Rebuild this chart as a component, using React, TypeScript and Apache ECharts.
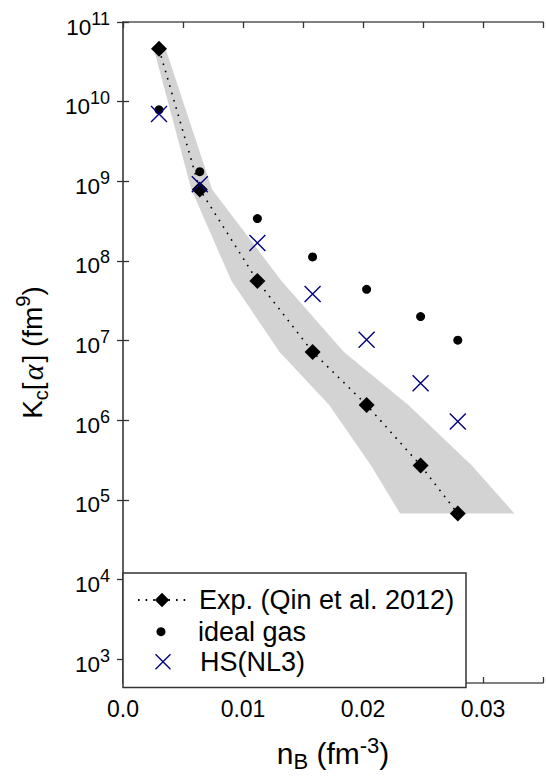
import React, { useEffect, useRef } from 'react';
import * as echarts from 'echarts';

// ---- data ----
const nB = [0.003, 0.0064, 0.0112, 0.0158, 0.0203, 0.0248, 0.0279];
const kExp = [4.6e10, 7.9e8, 5.6e7, 7.2e6, 1.55e6, 2.7e5, 6.7e4];
const kIdeal = [7.9e9, 1.32e9, 3.4e8, 1.12e8, 4.4e7, 2.0e7, 1.01e7];
const kHS = [7.0e9, 9.2e8, 1.68e8, 3.85e7, 1.02e7, 2.9e6, 9.6e5];
// horizontal (density) uncertainty band of the experimental points
const nBLow = [0.00256, 0.0057, 0.00904, 0.01305, 0.01718, 0.02067, 0.0231];
const nBHigh = [0.00355, 0.00743, 0.01321, 0.01841, 0.02378, 0.02907, 0.03262];
const yDecades = [3, 4, 5, 6, 7, 8, 9, 10, 11];
const seriesNames = ['Exp. (Qin et al. 2012)', 'ideal gas', 'HS(NL3)'];
const xMin = 0;
const xMax = 0.035;
const xStep = 0.005;
const yMinRaw = 500;
const yMaxRaw = 1e11;

const FONT = "'Liberation Sans', Arial, sans-serif";
const lg = (v: number) => Math.log10(v);

export default function App() {
  const ref = useRef<HTMLDivElement>(null);
  useEffect(() => {
    const chart = echarts.init(ref.current!, null, { renderer: 'svg' });
    const pts = (ys: number[]) => nB.map((x, i) => [x, lg(ys[i])]);
    const bandPts: number[][] = [
      ...nBHigh.map((x, i) => [x, lg(kExp[i])]),
      ...nBLow.map((x, i) => [x, lg(kExp[i])]).reverse(),
    ];
    const yMin = lg(yMinRaw);
    const yMax = lg(yMaxRaw);
    const axisLineStyle = { color: '#555', width: 1.5 };
    const tickStyle = { color: '#333', width: 1.3 };

    const legendCommon = {
      orient: 'vertical',
      padding: 0,
      itemWidth: 48,
      selectedMode: false,
      z: 10,
      textStyle: { fontSize: 27, lineHeight: 27, color: '#000', fontFamily: FONT, padding: [0, 0, 0, 8] },
    };

    const option: any = {
      animation: false,
      backgroundColor: '#fff',
      textStyle: { fontFamily: FONT },
      grid: { left: 123, right: -1, top: 22, bottom: 89.5, containLabel: false },
      xAxis: [
        {
          type: 'value',
          position: 'bottom',
          min: xMin,
          max: xMax,
          interval: xStep,
          axisLine: { show: true, lineStyle: axisLineStyle },
          axisTick: { show: true, inside: true, length: 6, lineStyle: tickStyle },
          splitLine: { show: false },
          axisLabel: {
            fontSize: 23,
            color: '#000',
            margin: 14,
            fontFamily: FONT,
            formatter: (v: number) => {
              const r = v / 0.01;
              if (Math.abs(r - Math.round(r)) > 1e-6 || v > 0.0301) return '';
              return Math.round(r) === 0 ? '0.0' : v.toFixed(2);
            },
          },
          name: '{a|n}{b|B}{a| (fm}{s|-3}{a|)}',
          nameLocation: 'middle',
          nameGap: 51,
          nameTextStyle: {
            color: '#000',
            rich: {
              a: { fontSize: 30, lineHeight: 38, verticalAlign: 'middle', fontFamily: FONT, color: '#000' },
              b: { fontSize: 22, verticalAlign: 'bottom', fontFamily: FONT, color: '#000' },
              s: { fontSize: 22, verticalAlign: 'top', fontFamily: FONT, color: '#000' },
            },
          },
        },
        {
          type: 'value',
          position: 'top',
          min: xMin,
          max: xMax,
          interval: xStep,
          axisLine: { show: true, lineStyle: axisLineStyle },
          axisTick: { show: true, inside: true, length: 6, lineStyle: tickStyle },
          axisLabel: { show: false },
          splitLine: { show: false },
        },
      ],
      yAxis: [
        {
          type: 'value',
          position: 'left',
          min: yMin,
          max: yMax,
          axisLine: { show: true, lineStyle: axisLineStyle },
          axisTick: { show: true, inside: true, length: 6, lineStyle: tickStyle, customValues: yDecades },
          splitLine: { show: false },
          axisLabel: {
            customValues: yDecades,
            margin: 13,
            color: '#000',
            formatter: (v: number) => `{b|10}{s|${Math.round(v)}}`,
            rich: {
              b: { fontSize: 22.5, verticalAlign: 'bottom', fontFamily: FONT, color: '#000' },
              s: { fontSize: 18, verticalAlign: 'top', padding: [4, 0, 0, 0], lineHeight: 33, fontFamily: FONT, color: '#000' },
            },
          },
          name: '{a|K}{c|c}{a|[}{g|α}{a|] (fm}{s|9}{a|)}',
          nameLocation: 'middle',
          nameGap: 72,
          nameTextStyle: {
            color: '#000',
            rich: {
              a: { fontSize: 28, lineHeight: 38, verticalAlign: 'middle', fontFamily: FONT, color: '#000' },
              g: { fontSize: 30, lineHeight: 38, verticalAlign: 'middle', fontFamily: "'Liberation Serif', serif", fontStyle: 'italic', color: '#000', padding: [0, 2, 0, 2] },
              c: { fontSize: 20, verticalAlign: 'bottom', fontFamily: FONT, color: '#000' },
              s: { fontSize: 20, verticalAlign: 'top', fontFamily: FONT, color: '#000' },
            },
          },
        },
        {
          type: 'value',
          position: 'right',
          min: yMin,
          max: yMax,
          axisLine: { show: true, lineStyle: axisLineStyle },
          axisTick: { show: true, inside: true, length: 6, lineStyle: tickStyle, customValues: yDecades },
          axisLabel: { show: false },
          splitLine: { show: false },
        },
      ],
      legend: [
        { ...legendCommon, data: [seriesNames[0]], left: 137, top: 586.5, itemHeight: 18 },
        { ...legendCommon, data: [seriesNames[1]], left: 156.5, top: 618.2, itemHeight: 9 },
        {
          ...legendCommon,
          data: [seriesNames[2]],
          left: 153,
          top: 648.2,
          itemHeight: 15,
          itemStyle: { borderWidth: 1.4 },
        },
      ],
      graphic: [
        {
          type: 'rect',
          z: 8,
          shape: { x: 123, y: 573, width: 343, height: 114.5 },
          style: { fill: '#fff', stroke: '#333', lineWidth: 1.5 },
          silent: true,
        },
      ],
      series: [
        {
          type: 'custom',
          name: 'band',
          silent: true,
          z: 1,
          data: bandPts,
          encode: { x: 0, y: 1 },
          renderItem: (params: any, api: any) => {
            if (params.dataIndex !== 0) return null;
            const p = bandPts.map((d) => api.coord(d));
            return { type: 'polygon', shape: { points: p }, style: { fill: '#d3d3d3', stroke: 'none' } };
          },
        },
        {
          type: 'line',
          name: seriesNames[0],
          z: 3,
          data: pts(kExp),
          symbol: 'diamond',
          symbolSize: 16,
          itemStyle: { color: '#000', opacity: 1 },
          lineStyle: { color: '#000', width: 1.6, type: [1.6, 6] },
        },
        {
          type: 'scatter',
          name: seriesNames[1],
          z: 4,
          data: pts(kIdeal),
          symbol: 'circle',
          symbolSize: 9,
          itemStyle: { color: '#000', opacity: 1 },
        },
        {
          type: 'scatter',
          name: seriesNames[2],
          z: 5,
          data: pts(kHS),
          symbol: 'path://M0,0L16,16M16,0L0,16',
          symbolSize: 16,
          itemStyle: { color: 'none', borderColor: '#000080', borderWidth: 1.4, opacity: 1 },
        },
      ],
    };
    chart.setOption(option);
    return () => chart.dispose();
  }, []);
  return (
    <div
      ref={ref}
      style={{ position: 'fixed', left: 0, top: 0, width: 546, height: 777, background: '#fff' }}
    />
  );
}
